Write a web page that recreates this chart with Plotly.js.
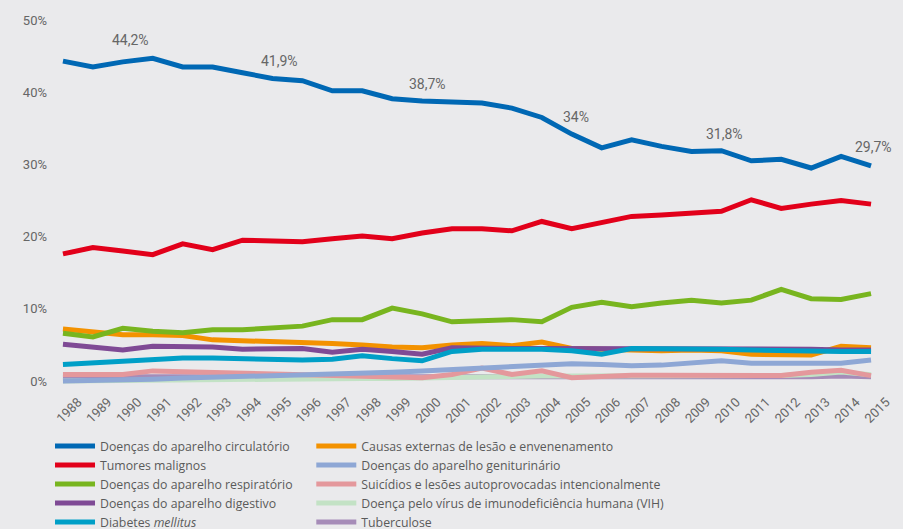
<!DOCTYPE html>
<html>
<head>
<meta charset="utf-8">
<script src="https://cdn.plot.ly/plotly-3.0.1.min.js"></script>
<style>
html,body{margin:0;padding:0;background:#eaeaec;}
#chart{width:903px;height:529px;}
</style>
</head>
<body>
<div id="chart"></div>
<script>
const years = [1988,1989,1990,1991,1992,1993,1994,1995,1996,1997,1998,1999,2000,2001,2002,2003,2004,2005,2006,2007,2008,2009,2010,2011,2012,2013,2014,2015];

const circulatorio = [44.3,43.5,44.2,44.7,43.5,43.5,42.7,41.9,41.6,40.2,40.2,39.1,38.8,38.7,38.5,37.8,36.5,34.2,32.3,33.4,32.5,31.8,31.9,30.5,30.7,29.5,31.1,29.8];
const tumores = [17.6,18.5,18.0,17.5,19.0,18.2,19.5,19.4,19.3,19.7,20.1,19.7,20.5,21.1,21.1,20.8,22.1,21.1,22.0,22.8,23.0,23.3,23.5,25.1,23.9,24.5,25.0,24.5];
const respiratorio = [6.6,6.1,7.3,6.9,6.7,7.1,7.1,7.4,7.6,8.5,8.5,10.1,9.3,8.2,8.4,8.5,8.2,10.2,10.9,10.3,10.8,11.2,10.8,11.2,12.7,11.4,11.3,12.1];
const digestivo = [5.1,4.7,4.3,4.8,4.8,4.7,4.4,4.4,4.5,4.0,4.4,4.1,3.7,4.6,4.5,4.5,4.5,4.5,4.5,4.5,4.5,4.5,4.5,4.4,4.4,4.4,4.3,4.3];
const diabetes = [2.3,2.5,2.8,3.0,3.2,3.2,3.1,2.9,2.9,3.0,3.5,3.1,2.8,4.1,4.4,4.4,4.4,4.2,3.7,4.5,4.5,4.5,4.4,4.3,4.2,4.1,4.1,4.1];
const causasExternas = [7.2,6.8,6.4,6.4,6.3,5.7,5.6,5.5,5.4,5.2,5.0,4.7,4.6,5.0,5.2,4.9,5.4,4.5,4.4,4.3,4.2,4.3,4.2,3.7,3.6,3.6,4.8,4.6];
const geniturinario = [0.0,0.05,0.15,0.25,0.4,0.5,0.75,0.85,0.85,0.9,1.0,1.2,1.4,1.6,1.75,1.9,2.2,2.4,2.3,2.1,2.2,2.5,2.8,2.45,2.45,2.45,2.45,2.9];
const suicidios = [0.9,0.9,0.9,1.4,1.3,1.15,1.05,1.0,0.8,0.7,0.6,0.55,0.45,0.9,1.8,0.9,1.4,0.45,0.7,0.8,0.8,0.8,0.8,0.75,0.75,1.2,1.5,0.75];
const vih = [0.0,0.05,0.1,0.15,0.2,0.25,0.3,0.35,0.35,0.35,0.35,0.35,0.45,0.55,0.6,0.6,0.7,0.7,0.7,0.7,0.7,0.7,0.75,0.75,0.75,0.9,1.25,0.85];
const tuberculose = [0.6,0.6,0.6,0.55,0.55,0.5,0.5,0.5,0.5,0.5,0.5,0.5,0.5,0.55,0.6,0.6,0.65,0.6,0.6,0.6,0.6,0.6,0.6,0.6,0.6,0.6,0.7,0.6];

const labelYears = [1990,1995,2000,2005,2010,2015];
const labelTexts = ['44,2%','41,9%','38,7%','34%','31,8%','29,7%'];

const yTicks = [0,10,20,30,40,50];
const yTickText = ['0%','10%','20%','30%','40%','50%'];

// series: name, data, color, legend, rank (drawing order = array order)
const series = [
  ['Tuberculose', tuberculose, '#a68cb8', 'legend2', 5],
  ['Doença pelo vírus de imunodeficiência humana (VIH)', vih, '#c3e2c5', 'legend2', 4],
  ['Suicídios e lesões autoprovocadas intencionalmente', suicidios, '#e4989c', 'legend2', 3],
  ['Doenças do aparelho geniturinário', geniturinario, '#8ea7d5', 'legend2', 2],
  ['Causas externas de lesão e envenenamento', causasExternas, '#f39200', 'legend2', 1],
  ['Doenças do aparelho digestivo', digestivo, '#7f4a95', 'legend', 4],
  ['Diabetes <i>mellitus</i>', diabetes, '#009fc7', 'legend', 5],
  ['Doenças do aparelho respiratório', respiratorio, '#78b51f', 'legend', 3],
  ['Tumores malignos', tumores, '#e2001a', 'legend', 2],
  ['Doenças do aparelho circulatório', circulatorio, '#0068b4', 'legend', 1]
];

const traces = series.map(s => ({
  x: years, y: s[1], name: s[0], type: 'scatter', mode: 'lines',
  line: {color: s[2], width: 5},
  legend: s[3], legendrank: s[4], hoverinfo: 'skip'
}));

const labelShift = [[8,22],[7,18],[5,17],[4,17],[3,17],[2,19]];
const annotations = labelYears.map((yr, i) => ({
  x: yr, y: circulatorio[years.indexOf(yr)], text: labelTexts[i],
  showarrow: false, xanchor: 'center', yanchor: 'middle',
  xshift: labelShift[i][0], yshift: labelShift[i][1],
  font: {family: 'Roboto, sans-serif', size: 14, color: '#666'}
}));

const legendStyle = {
  orientation: 'v', yanchor: 'top', xanchor: 'left', y: -0.105,
  itemwidth: 40, tracegroupgap: 0,
  font: {family: '"Open Sans", Roboto, sans-serif', size: 12.3, color: '#5a5a5a'},
  bgcolor: 'rgba(0,0,0,0)', traceorder: 'normal'
};

const layout = {
  width: 903, height: 529,
  paper_bgcolor: '#eaeaec', plot_bgcolor: 'rgba(0,0,0,0)',
  margin: {l: 48, r: 16.5, t: 5, b: 138, autoexpand: false},
  font: {family: 'Roboto, sans-serif', color: '#5a5a5a'},
  showlegend: true,
  xaxis: {
    range: [1987.5, 2015.5], tickmode: 'array', tickvals: years,
    ticktext: years.map(String), tickangle: -45,
    showgrid: false, zeroline: false, showline: false, ticks: '',
    tickfont: {family: 'Roboto, sans-serif', size: 13, color: '#666'},
    ticklabelshift: 15, fixedrange: true
  },
  yaxis: {
    range: [-1.385, 52.08], tickmode: 'array', tickvals: yTicks, ticktext: yTickText,
    showgrid: false, zeroline: false, showline: false, ticks: '',
    tickfont: {family: 'Roboto, sans-serif', size: 13, color: '#666'},
    ticklabelshift: -3.5, fixedrange: true
  },
  legend: Object.assign({}, legendStyle, {x: 0.0024}),
  legend2: Object.assign({}, legendStyle, {x: 0.3142}),
  annotations: annotations
};

Plotly.newPlot('chart', traces, layout, {displayModeBar: false, staticPlot: true});
</script>
</body>
</html>
